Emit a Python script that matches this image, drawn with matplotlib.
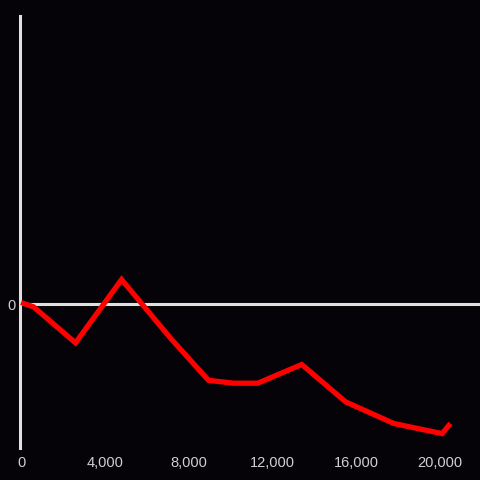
import matplotlib

matplotlib.use("Agg")
import matplotlib.pyplot as plt
from matplotlib.ticker import FuncFormatter

# values
x_values = [0, 600, 2600, 4800, 7150, 8950, 10150, 11300, 13400, 15500, 17800, 20100, 20500]
y_values = [0.1, -0.2, -2.7, 1.7, -2.4, -5.3, -5.5, -5.5, -4.2, -6.8, -8.3, -9.0, -8.3]
x_ticks = [0, 4000, 8000, 12000, 16000, 20000]
y_ticks = [0]

BG = "#050307"
AXIS = "#e0e0e0"
TEXT = "#d0d0d0"

fig = plt.figure(figsize=(4.8, 4.8), dpi=100, facecolor=BG)
ax = fig.add_axes([20 / 480, 1 - 448 / 480, 460 / 480, 432 / 480])
ax.set_facecolor(BG)

ax.axhline(0, color=AXIS, linewidth=2.2, zorder=2)
ax.plot(x_values, y_values, color="#ff0000", linewidth=3.8,
        solid_joinstyle="miter", solid_capstyle="butt", zorder=3)

ax.set_xlim(-50, 21910)
ax.set_ylim(-10, 20)
ax.set_xticks(x_ticks)
ax.set_yticks(y_ticks)
ax.xaxis.set_major_formatter(FuncFormatter(lambda v, _: f"{int(v):,}"))
ax.tick_params(axis="both", length=0, colors=TEXT, labelsize=10.5)
ax.tick_params(axis="x", pad=6)
ax.tick_params(axis="y", pad=3)
for label in ax.get_xticklabels() + ax.get_yticklabels():
    label.set_fontfamily("Liberation Sans")

for side in ("top", "right", "bottom"):
    ax.spines[side].set_visible(False)
ax.spines["left"].set_color(AXIS)
ax.spines["left"].set_linewidth(2.2)

fig.savefig("out.png", dpi=100, facecolor=BG)
